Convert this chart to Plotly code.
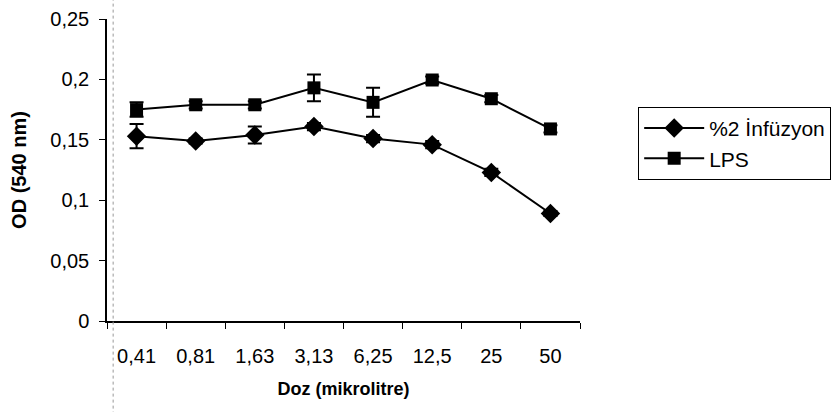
import plotly.graph_objects as go

doses = ["0,41", "0,81", "1,63", "3,13", "6,25", "12,5", "25", "50"]
infuzyon = [0.153, 0.149, 0.154, 0.161, 0.151, 0.146, 0.123, 0.089]
infuzyon_err = [0.010, 0.002, 0.007, 0.003, 0.003, 0.003, 0.003, 0.002]
lps = [0.175, 0.179, 0.179, 0.193, 0.181, 0.1995, 0.184, 0.159]
lps_err = [0.006, 0.003, 0.003, 0.011, 0.012, 0.003, 0.003, 0.003]
yticks = [0, 0.05, 0.1, 0.15, 0.2, 0.25]
yticktext = ["0", "0,05", "0,1", "0,15", "0,2", "0,25"]

FONT = "Liberation Sans, Arial, sans-serif"

fig = go.Figure()
fig.add_trace(go.Scatter(
    x=doses, y=infuzyon, name="%2 İnfüzyon", mode="lines+markers",
    line=dict(color="black", width=2),
    marker=dict(symbol="diamond", size=15, color="black"),
    error_y=dict(type="data", array=infuzyon_err, visible=True, color="black", thickness=2, width=7),
))
fig.add_trace(go.Scatter(
    x=doses, y=lps, name="LPS", mode="lines+markers",
    line=dict(color="black", width=2),
    marker=dict(symbol="square", size=13, color="black"),
    error_y=dict(type="data", array=lps_err, visible=True, color="black", thickness=2, width=7),
))

# faint dotted scan line near the y axis
fig.add_shape(type="line", xref="paper", yref="paper", x0=0.013, x1=0.013, y0=-0.31, y1=1.07,
              line=dict(color="#999999", width=1, dash="dot"))

fig.update_layout(
    width=835, height=412,
    margin=dict(l=107, r=255, t=19, b=91, autoexpand=False),
    paper_bgcolor="white", plot_bgcolor="white",
    font=dict(family=FONT, color="black", size=19),
    showlegend=True,
    legend=dict(x=1.123, y=0.709, xanchor="left", yanchor="top",
                bordercolor="black", borderwidth=1, font=dict(size=21, color="black"),
                bgcolor="white", tracegroupgap=0, itemwidth=60),
    xaxis=dict(
        type="category", showgrid=False, showline=True, linecolor="black", linewidth=1.5,
        ticks="outside", tickson="boundaries", ticklen=6, tickcolor="black",
        ticklabelstandoff=16, tickfont=dict(size=20), automargin=False,
        title=dict(text="<b>Doz (mikrolitre)</b>", font=dict(size=18), standoff=17),
        range=[-0.5, 7.5],
    ),
    yaxis=dict(
        range=[0, 0.25], tickvals=yticks, ticktext=yticktext, showgrid=False, zeroline=False,
        showline=True, linecolor="black", linewidth=1.5,
        ticks="outside", ticklen=6, tickcolor="black", tickfont=dict(size=20),
        ticklabelstandoff=6, automargin=False,
        title=dict(text="<b>OD (540 nm)</b>", font=dict(size=20), standoff=18),
    ),
)

fig.write_html("out.html")
